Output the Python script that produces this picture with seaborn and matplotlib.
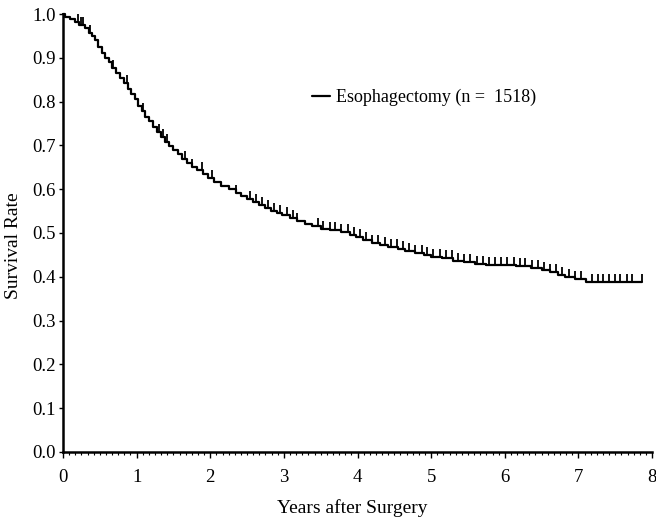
import numpy as np
import pandas as pd
import seaborn as sns
import matplotlib
matplotlib.use("Agg")
import matplotlib.pyplot as plt
from matplotlib.path import Path
from matplotlib.ticker import MultipleLocator

# Kaplan-Meier estimate: event times (years) and survival after each event
event_years = [0.00, 0.03, 0.10, 0.16, 0.22, 0.30, 0.35, 0.40, 0.44, 0.48,
               0.53, 0.57, 0.62, 0.66, 0.72, 0.78, 0.83, 0.88, 0.93, 0.98,
               1.02, 1.07, 1.12, 1.17, 1.22, 1.28, 1.33, 1.38, 1.44, 1.50,
               1.56, 1.62, 1.68, 1.75, 1.82, 1.90, 1.97, 2.05, 2.15, 2.25,
               2.35, 2.42, 2.50, 2.58, 2.66, 2.74, 2.82, 2.90, 2.98, 3.08,
               3.18, 3.28, 3.38, 3.50, 3.62, 3.78, 3.90, 3.98, 4.08, 4.20,
               4.30, 4.42, 4.55, 4.65, 4.78, 4.90, 5.00, 5.15, 5.30, 5.45,
               5.60, 5.75, 5.95, 6.15, 6.35, 6.50, 6.62, 6.72, 6.82, 6.95,
               7.10, 7.87]
survival = [1.000, 0.994, 0.988, 0.982, 0.975, 0.968, 0.958, 0.950, 0.940, 0.925,
            0.912, 0.900, 0.890, 0.878, 0.866, 0.853, 0.842, 0.828, 0.818, 0.805,
            0.790, 0.778, 0.765, 0.755, 0.742, 0.730, 0.720, 0.708, 0.698, 0.690,
            0.680, 0.670, 0.660, 0.651, 0.643, 0.634, 0.626, 0.616, 0.608, 0.600,
            0.592, 0.585, 0.578, 0.570, 0.563, 0.557, 0.551, 0.546, 0.540, 0.535,
            0.528, 0.520, 0.515, 0.510, 0.507, 0.503, 0.496, 0.490, 0.485, 0.478,
            0.472, 0.468, 0.463, 0.458, 0.455, 0.450, 0.446, 0.443, 0.437, 0.434,
            0.430, 0.428, 0.426, 0.424, 0.420, 0.415, 0.410, 0.404, 0.399, 0.394,
            0.387, 0.387]

# Censored observations (years)
censor_years = [0.20, 0.24, 0.27, 0.37, 0.68, 0.87, 1.09, 1.30, 1.36, 1.41,
                1.66, 1.75, 1.89, 2.02, 2.35,
                2.54, 2.62, 2.70, 2.79, 2.87, 2.95, 3.04, 3.12, 3.18,
                3.46, 3.53, 3.62, 3.70, 3.78, 3.87, 3.95, 4.03, 4.12, 4.20,
                4.28, 4.37, 4.45, 4.53, 4.62, 4.70, 4.78, 4.87, 4.95, 5.03,
                5.12, 5.20, 5.28, 5.37, 5.45, 5.53, 5.62, 5.70, 5.78, 5.87,
                5.95, 6.03, 6.12, 6.20, 6.28, 6.37, 6.45, 6.53, 6.62, 6.70,
                6.78, 6.87, 6.95, 7.03, 7.19, 7.26, 7.34, 7.41, 7.50, 7.57,
                7.66, 7.73, 7.87]

x_ticks = [0, 1, 2, 3, 4, 5, 6, 7, 8]
y_ticks = [0.0, 0.1, 0.2, 0.3, 0.4, 0.5, 0.6, 0.7, 0.8, 0.9, 1.0]
series_label = "Esophagectomy (n =  1518)"

km = pd.DataFrame({"years": event_years, "survival": survival})
idx = np.searchsorted(np.array(event_years), np.array(censor_years), side="right") - 1
censored = pd.DataFrame({"years": censor_years,
                         "survival": np.array(survival)[idx]})

sns.set_theme(style="white")
plt.rcParams["font.family"] = ["Liberation Serif", "DejaVu Serif"]

fig = plt.figure(figsize=(6.56, 5.23), dpi=100)
ax = fig.add_axes([0.096, 0.136, 0.898, 0.837])

sns.lineplot(data=km, x="years", y="survival", drawstyle="steps-post",
             color="black", linewidth=1.6, label=series_label, ax=ax,
             clip_on=False)

# censor ticks rise above the curve
tick_up = Path([(0, 0), (0, 1)], [Path.MOVETO, Path.LINETO])
sns.scatterplot(data=censored, x="years", y="survival", marker=tick_up,
                s=130, color="black", edgecolor="black", linewidth=1.3,
                ax=ax, legend=False, clip_on=False)

ax.set_xlim(0, 8)
ax.set_ylim(0, 1.0)
ax.set_xticks(x_ticks)
ax.set_xticklabels([str(v) for v in x_ticks])
ax.set_yticks(y_ticks)
ax.set_yticklabels([f"{v:.1f}" for v in y_ticks])
ax.xaxis.set_minor_locator(MultipleLocator(1 / 12))

for side in ("top", "right"):
    ax.spines[side].set_visible(False)
for side in ("left", "bottom"):
    ax.spines[side].set_color("black")
    ax.spines[side].set_linewidth(1.8)

ax.tick_params(axis="y", which="major", direction="out", length=3,
               width=1.0, color="black", labelsize=13.5, labelcolor="black",
               left=True, pad=2)
ax.tick_params(axis="x", which="major", direction="out", length=4,
               width=1.0, color="black", labelsize=13.5, labelcolor="black",
               bottom=True, pad=8)
ax.tick_params(axis="x", which="minor", direction="out", length=2.5,
               width=0.8, color="black", bottom=True)

ax.set_xlabel("Years after Surgery", fontsize=14, color="black")
ax.set_ylabel("Survival Rate", fontsize=14, color="black")
ax.xaxis.set_label_coords(0.491, -0.108)
ax.yaxis.set_label_coords(-0.07, 0.47)

leg = ax.legend(loc="center left", bbox_to_anchor=(0.395, 0.81), frameon=False,
                handlelength=1.0, handletextpad=0.35, fontsize=13)
for t in leg.get_texts():
    t.set_color("black")

fig.savefig("out.png", dpi=100, facecolor="white")
